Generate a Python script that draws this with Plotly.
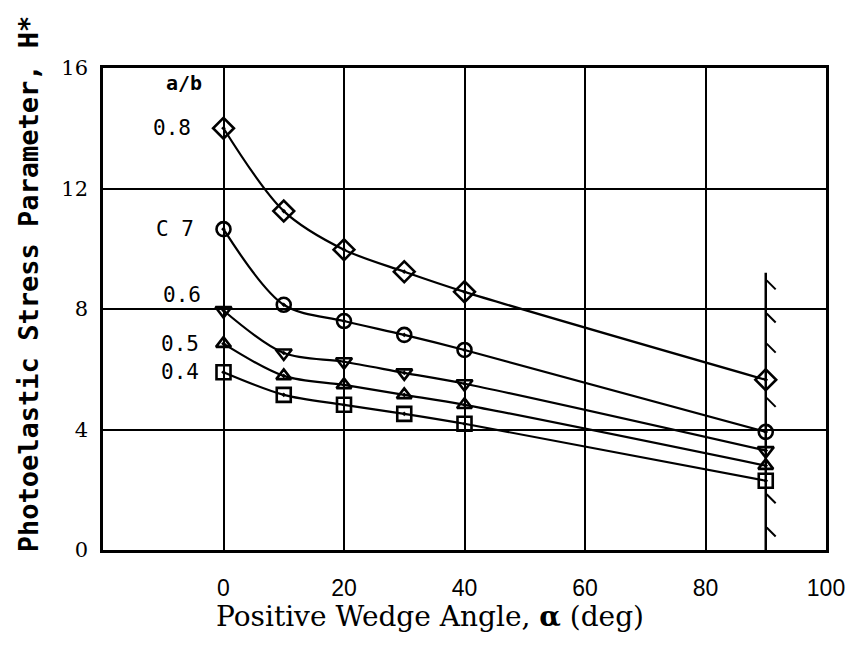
import plotly.graph_objects as go

# Wedge angle (deg) and photoelastic stress parameter H* for each a/b ratio
alpha = [0, 10, 20, 30, 40, 90]
h_08 = [14.0, 11.25, 9.97, 9.24, 8.57, 5.65]
h_07 = [10.65, 8.14, 7.6, 7.14, 6.64, 3.92]
h_06 = [7.95, 6.54, 6.25, 5.88, 5.52, 3.3]
h_05 = [6.85, 5.78, 5.48, 5.15, 4.82, 2.8]
h_04 = [5.9, 5.15, 4.82, 4.52, 4.19, 2.3]

ratio_labels = ["0.8", "C 7", "0.6", "0.5", "0.4"]
label_x = [-5.0, -4.6, -3.4, -3.8, -3.8]
label_y = [14.0, 10.65, 8.45, 6.85, 5.9]
symbols = ["diamond-open-dot", "circle-open-dot", "triangle-down-open-dot",
           "triangle-up-open-dot", "square-open-dot"]
marker_sizes = [16, 14, 14, 13, 14]

# Boundary at 90 deg with hatch marks
wall_x = [90, 90]
wall_y = [0, 9.2]
hatch_y = [0.6, 1.7, 4.9, 6.7, 7.7, 8.8]

x_ticks = [0, 20, 40, 60, 80, 100]
y_ticks = [0, 4, 8, 12, 16]

x_title = "Positive Wedge Angle, <b>α</b> (deg)"
y_title = "<b>Photoelastic Stress Parameter, H*</b>"

mono = "DejaVu Sans Mono"
serif = "DejaVu Serif"
ink = "black"

fig = go.Figure()

fig.add_trace(go.Scatter(x=wall_x, y=wall_y, mode="lines",
                         line=dict(color=ink, width=2.5), hoverinfo="skip"))
fig.add_trace(go.Scatter(x=[90.9] * len(hatch_y), y=hatch_y, mode="markers",
                         marker=dict(symbol="line-nw", size=9, color=ink,
                                     line=dict(color=ink, width=2)),
                         hoverinfo="skip"))

for series, sym, ms in zip([h_08, h_07, h_06, h_05, h_04], symbols, marker_sizes):
    fig.add_trace(go.Scatter(
        x=alpha, y=series, mode="lines+markers",
        line=dict(color=ink, width=2.2, shape="spline", smoothing=0.9),
        marker=dict(symbol=sym, size=ms, color=ink,
                    line=dict(color=ink, width=2.6)),
    ))

annotations = [dict(x=-6.5, y=15.5, text="<b>a/b</b>", showarrow=False,
                    font=dict(family=mono, size=20, color=ink))]
for txt, xx, yy in zip(ratio_labels, label_x, label_y):
    annotations.append(dict(x=xx, y=yy, text=txt, showarrow=False,
                            xanchor="right",
                            font=dict(family=mono, size=21, color=ink)))

# Axis titles, placed in paper coordinates
annotations.append(dict(xref="paper", yref="paper", x=0.452, y=-0.139,
                        text=x_title, showarrow=False,
                        xanchor="center", yanchor="middle",
                        font=dict(family=serif, size=28, color=ink)))
annotations.append(dict(xref="paper", yref="paper", x=-0.102, y=0.552,
                        text=y_title, showarrow=False, textangle=-90,
                        xanchor="center", yanchor="middle",
                        font=dict(family=mono, size=27, color=ink)))

fig.update_layout(
    width=857, height=647,
    margin=dict(l=103, r=27, t=68, b=97),
    paper_bgcolor="white", plot_bgcolor="white",
    showlegend=False,
    annotations=annotations,
    xaxis=dict(range=[-20, 100], tickvals=x_ticks,
               showgrid=True, gridcolor=ink, gridwidth=2,
               showline=True, linecolor=ink, linewidth=2.5, mirror=True,
               zeroline=False, ticks="",
               ticklabelstandoff=16,
               tickfont=dict(family="Liberation Sans", size=23, color=ink)),
    yaxis=dict(range=[0, 16], tickvals=y_ticks,
               showgrid=True, gridcolor=ink, gridwidth=2,
               showline=True, linecolor=ink, linewidth=2.5, mirror=True,
               zeroline=False, ticks="",
               ticklabelstandoff=8,
               tickfont=dict(family=serif, size=21, color=ink)),
)

fig.write_html("out.html")
